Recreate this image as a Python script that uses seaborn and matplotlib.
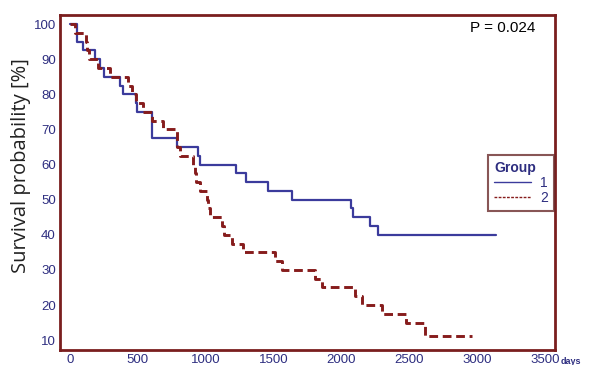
import numpy as np
import pandas as pd
import matplotlib
matplotlib.use("Agg")
import matplotlib.pyplot as plt
from matplotlib.lines import Line2D
import seaborn as sns

# Kaplan-Meier steps (day of event, survival after it)
g1_days = [0, 52, 96, 184, 221, 251, 369, 391, 487, 494, 605, 789, 944, 958,
           1224, 1298, 1460, 1637, 2072, 2087, 2212, 2271, 3142]
g1_surv = [100, 95, 92.5, 90, 87.5, 85, 82.5, 80, 77.5, 75, 67.5, 65, 62.5, 60,
           57.5, 55, 52.5, 50, 47.5, 45, 42.5, 40, 40]

g2_days = [0, 37, 118, 128, 140, 205, 295, 428, 457, 487, 538, 605, 686, 789,
           811, 907, 920, 930, 958, 1010, 1018, 1032, 1121, 1136, 1195, 1276,
           1512, 1563, 1807, 1858, 2102, 2153, 2301, 2478, 2618, 2965]
g2_surv = [100, 97.5, 95, 92.5, 90, 87.5, 85, 82.5, 80, 77.5, 75, 72.5, 70, 65,
           62.5, 60, 57.5, 55, 52.5, 50, 47.5, 45, 42.5, 40, 37.5, 35,
           32.5, 30, 27.5, 25, 22.5, 20, 17.5, 15, 11.2, 11.2]

groups = ["1", "2"]
x_ticks = [0, 500, 1000, 1500, 2000, 2500, 3000, 3500]
y_ticks = [10, 20, 30, 40, 50, 60, 70, 80, 90, 100]
p_text = "P = 0.024"

blue = "#3b3b9c"
red = "#861c1c"
frame = "#7a1e1e"
navy = "#2e2e80"

df = pd.concat([
    pd.DataFrame({"days": g1_days, "surv": g1_surv, "group": groups[0]}),
    pd.DataFrame({"days": g2_days, "surv": g2_surv, "group": groups[1]}),
])

sns.set_style("white")
plt.rcParams["font.family"] = ["Liberation Sans", "DejaVu Sans"]

fig = plt.figure(figsize=(5.89, 3.65), dpi=100)
ax = fig.add_axes([60 / 589, 15 / 365, 495 / 589, 335 / 365])

sns.lineplot(data=df, x="days", y="surv", hue="group", style="group",
             palette={"1": blue, "2": red},
             dashes={"1": "", "2": (3, 1.6)},
             estimator=None, sort=False, drawstyle="steps-post",
             legend=False, ax=ax)
for ln, lw in zip(ax.lines, [1.6, 2.1]):
    ln.set_linewidth(lw)

ax.set_xlim(-74, 3575)
ax.set_ylim(7.2, 102.6)
ax.set_xticks(x_ticks)
ax.set_yticks(y_ticks)
ax.set_yticks(np.arange(15, 100, 10), minor=True)

for s in ax.spines.values():
    s.set_color(frame)
    s.set_linewidth(2)

ax.tick_params(axis="both", which="major", direction="in", length=8, width=2,
               color=frame, labelcolor=navy, labelsize=9.5)
ax.tick_params(axis="y", which="minor", direction="in", length=4, width=1.5,
               color=frame)
ax.tick_params(axis="x", pad=3)
ax.tick_params(axis="y", pad=3)

ax.set_xlabel("")
ax.set_ylabel("Survival probability [%]", fontsize=14.5, color="#222222",
              family=["Open Sans", "DejaVu Sans"])
ax.yaxis.set_label_coords(-0.058, 0.552)

ax.annotate("days", xy=(1, 0), xycoords="axes fraction", xytext=(4, -8.5),
            textcoords="offset points", fontsize=6.5, color=navy,
            fontweight="bold", ha="left", va="center", annotation_clip=False)

ax.text(0.96, 0.961, p_text, transform=ax.transAxes, ha="right", va="center",
        fontsize=11, color="black")

handles = [Line2D([], [], color=blue, lw=1),
           Line2D([], [], color=red, lw=1, ls=(0, (2, 1)))]
leg = ax.legend(handles, groups, title="Group", loc="upper left",
                bbox_to_anchor=(0.865, 0.582), borderaxespad=0,
                fontsize=10, title_fontsize=10, frameon=True, fancybox=False,
                handlelength=2.6, handletextpad=0.7, labelspacing=0.05,
                borderpad=0.45)
leg.get_frame().set_edgecolor("#6b2c2c")
leg.get_frame().set_linewidth(1.5)
leg._legend_box.align = "left"
leg.get_title().set_color(navy)
leg.get_title().set_fontweight("bold")
for t in leg.get_texts():
    t.set_color(navy)

fig.savefig("out.png", dpi=100)
